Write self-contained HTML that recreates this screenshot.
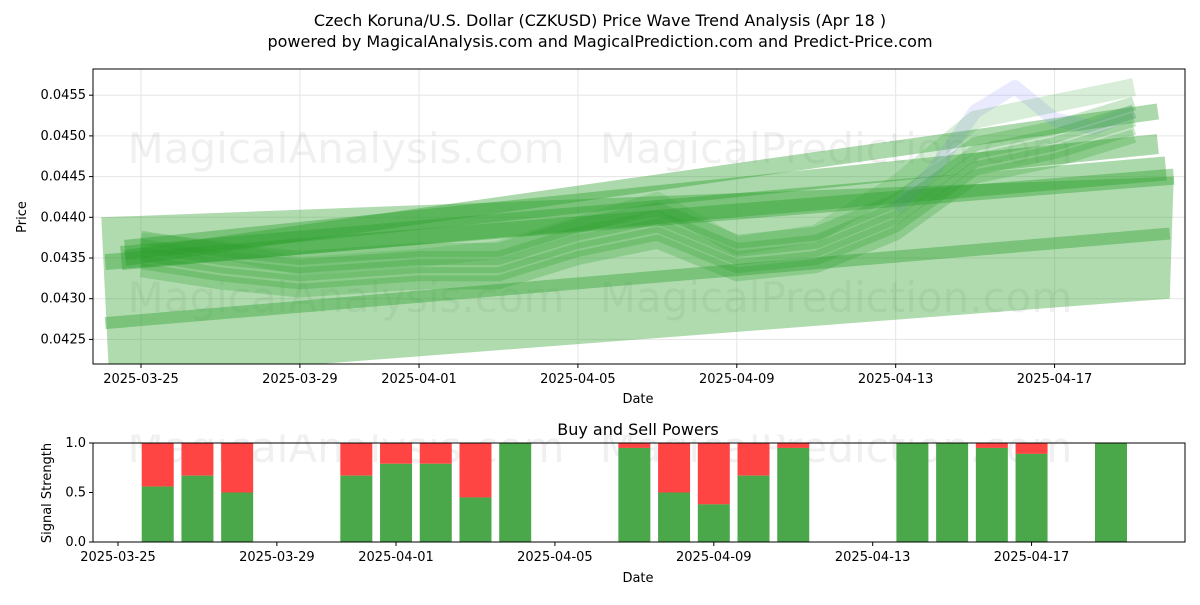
<!DOCTYPE html>
<html><head><meta charset="utf-8"><style>
body{margin:0;background:#fff;font-family:"Liberation Sans","DejaVu Sans",sans-serif;}
svg text{font-family:"DejaVu Sans","Liberation Sans",sans-serif;}
</style></head><body>
<svg id="c" width="1200" height="600" xmlns="http://www.w3.org/2000/svg">
<rect width="1200" height="600" fill="#fff"/>
<text x="600" y="26" font-size="16" text-anchor="middle">Czech Koruna/U.S. Dollar (CZKUSD) Price Wave Trend Analysis (Apr 18 )</text>
<text x="600" y="47" font-size="16" text-anchor="middle">powered by MagicalAnalysis.com and MagicalPrediction.com and Predict-Price.com</text>
<g id="topPanel"></g>
<g id="botPanel"></g>
</svg>
<script>
// ---- data ----
const priceTicks=[0.0425,0.0430,0.0435,0.0440,0.0445,0.0450,0.0455];
const dateTicks=["2025-03-25","2025-03-29","2025-04-01","2025-04-05","2025-04-09","2025-04-13","2025-04-17"];
const dateTickDays=[0,4,7,11,15,19,23];
const waveDays=[0,2,4,7,9,11,13,15,17,19,21,23,25];
const wavePrice=[0.04355,0.0434,0.0433,0.0434,0.0434,0.0437,0.0439,0.04350,0.0436,0.0440,0.0447,0.0449,0.0452];
const waveHi=[0.0437,0.0436,0.0434,0.0435,0.0436,0.0439,0.0442,0.04365,0.0438,0.0444,0.0452,0.0454,0.0456];
const blueDays=[19,20,21,22,23,24,25];
const bluePrice=[0.0441,0.0446,0.0453,0.0456,0.0452,0.0451,0.0453];
const trendStartDay=[-0.9,-0.9,-0.5,-0.4,-0.4];
const trendEndDay=[26,25.9,25.8,25.6,25.6];
const trendStart=[0.04345,0.0427,0.0435,0.0436,0.0435];
const trendEnd=[0.0445,0.04380,0.0446,0.0449,0.0453];
const trendWidth=[16,12,24,20,16];
const bandTopStart=0.0440, bandTopEnd=0.0445, bandBotStart=0.0420, bandBotEnd=0.0430;
const powerDays=[1,2,3,6,7,8,9,10,13,14,15,16,17,20,21,22,23,25];
const buyPower=[0.56,0.67,0.5,0.67,0.79,0.79,0.45,1.0,0.95,0.5,0.38,0.67,0.95,1.0,1.0,0.95,0.89,1.0];
const powerTicks=[0,0.5,1.0];
// ---- scales ----
const NS="http://www.w3.org/2000/svg";
const L=93,R=1185,T=69,B=364;
const X=d=>141+d*39.72;
const Y=p=>258-(p-0.0435)/0.0005*40.7;
const X2=d=>118+d*39.72;
const BT=443,BB=542;
const Y2=v=>BB-v*(BB-BT);
function mk(tag,attrs,parent){const e=document.createElementNS(NS,tag);for(const k in attrs)e.setAttribute(k,attrs[k]);parent.appendChild(e);return e;}
const topG=document.getElementById('topPanel'),botG=document.getElementById('botPanel');
priceTicks.forEach(p=>{const g=mk('line',{x1:L,x2:R,y1:Y(p),y2:Y(p),stroke:'#e5e5e5'},topG);

});
dateTickDays.forEach(d=>{const g=mk('line',{x1:X(d),x2:X(d),y1:T,y2:B,stroke:'#e5e5e5'},topG);

});
[[346,163,'MagicalAnalysis.com'],[836,163,'MagicalPrediction.com'],[346,312,'MagicalAnalysis.com'],[836,312,'MagicalPrediction.com'],[346,462,'MagicalAnalysis.com'],[836,462,'MagicalPrediction.com']].forEach(w=>{
const t=mk('text',{x:w[0],y:w[1],'font-size':42,'text-anchor':'middle',fill:'#000','fill-opacity':0.06},topG);t.textContent=w[2];

});
const band=mk('polygon',{points:`${X(-1)},${Y(bandTopStart)} ${X(26)},${Y(bandTopEnd)} ${X(25.9)},${Y(bandBotEnd)} ${X(-0.8)},${Y(bandBotStart)}`,fill:'#2ca02c','fill-opacity':0.38},topG);


trendStart.forEach((s,i)=>{const l=mk('line',{x1:X(trendStartDay[i]),y1:Y(s),x2:X(trendEndDay[i]),y2:Y(trendEnd[i]),stroke:'#2ca02c','stroke-opacity':0.4,'stroke-width':trendWidth[i]},topG);

});
function pl(days,vals,off){return days.map((d,i)=>`${X(d)},${Y(vals[i]+off)}`).join(' ');}
const bl=mk('polyline',{points:blueDays.map((d,i)=>`${X(d)},${Y(bluePrice[i])}`).join(' '),fill:'none',stroke:'#8888ff','stroke-opacity':0.18,'stroke-width':14,'stroke-linejoin':'round'},topG);


[-0.0002,-0.0001,0,0.0001,0.0002].forEach(o=>{
const w=mk('polyline',{points:pl(waveDays,wavePrice,o),fill:'none',stroke:'#2ca02c','stroke-opacity':0.26,'stroke-width':14,'stroke-linejoin':'round'},topG);

});
const wh=mk('polyline',{points:pl(waveDays,waveHi,0),fill:'none',stroke:'#2ca02c','stroke-opacity':0.18,'stroke-width':18,'stroke-linejoin':'round'},topG);


mk('rect',{x:0,y:364.5,width:1200,height:70,fill:'#fff'},topG);
mk('rect',{x:0,y:55,width:1200,height:13.5,fill:'#fff'},topG);
mk('rect',{x:0,y:60,width:92.5,height:310,fill:'#fff'},topG);
mk('rect',{x:1185.5,y:60,width:15,height:310,fill:'#fff'},topG);
const f=mk('rect',{x:L,y:T,width:R-L,height:B-T,fill:'none',stroke:'#000','stroke-width':1},topG);


priceTicks.forEach(p=>{mk('line',{x1:L-4,x2:L,y1:Y(p),y2:Y(p),stroke:'#000'},topG);
const t=mk('text',{x:L-7,y:Y(p)+4,'font-size':13,'text-anchor':'end'},topG);t.textContent=p.toFixed(4);

});
dateTickDays.forEach((d,i)=>{mk('line',{x1:X(d),x2:X(d),y1:B,y2:B+4,stroke:'#000'},topG);
const t=mk('text',{x:X(d),y:B+19,'font-size':13,'text-anchor':'middle'},topG);t.textContent=dateTicks[i];

});
let tx=mk('text',{x:638,y:403,'font-size':13,'text-anchor':'middle'},topG);tx.textContent='Date';


tx=mk('text',{x:0,y:0,'font-size':13,'text-anchor':'middle',transform:'translate(26,217) rotate(-90)'},topG);tx.textContent='Price';


tx=mk('text',{x:638,y:435,'font-size':16,'text-anchor':'middle'},botG);tx.textContent='Buy and Sell Powers';


powerDays.forEach((d,i)=>{
const x=X2(d)-16;
const r=mk('rect',{x:x,y:Y2(1),width:32,height:Y2(buyPower[i])-Y2(1),fill:'#ff4444'},botG);


const g=mk('rect',{x:x,y:Y2(buyPower[i]),width:32,height:BB-Y2(buyPower[i]),fill:'#4aa84a'},botG);

});
const f2=mk('rect',{x:L,y:BT,width:R-L,height:BB-BT,fill:'none',stroke:'#000'},botG);


powerTicks.forEach(v=>{mk('line',{x1:L-4,x2:L,y1:Y2(v),y2:Y2(v),stroke:'#000'},botG);
const t=mk('text',{x:L-7,y:Y2(v)+4,'font-size':13,'text-anchor':'end'},botG);t.textContent=v.toFixed(1);

});
dateTickDays.forEach((d,i)=>{mk('line',{x1:X2(d),x2:X2(d),y1:BB,y2:BB+4,stroke:'#000'},botG);
const t=mk('text',{x:X2(d),y:BB+19,'font-size':13,'text-anchor':'middle'},botG);t.textContent=dateTicks[i];

});
tx=mk('text',{x:638,y:582,'font-size':13,'text-anchor':'middle'},botG);tx.textContent='Date';


tx=mk('text',{x:0,y:0,'font-size':13,'text-anchor':'middle',transform:'translate(51,493) rotate(-90)'},botG);tx.textContent='Signal Strength';


</script>
</body></html>
